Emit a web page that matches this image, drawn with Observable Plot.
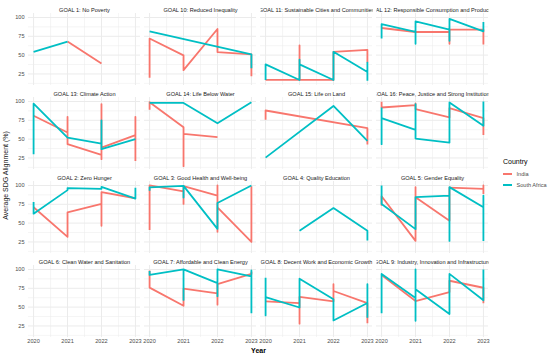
<!DOCTYPE html>
<html><head><meta charset="utf-8">
<script src="https://cdn.jsdelivr.net/npm/d3@7"></script>
<script src="https://cdn.jsdelivr.net/npm/@observablehq/plot@0.6"></script>
<style>
body{margin:0;background:#fff;}
#wrap{position:relative;width:550px;height:355px;font-family:"Liberation Sans",Arial,sans-serif;}
#chart svg g[aria-label="x-axis label"] text{font-size:7px;font-weight:bold;fill:#000;}
#chart svg g[aria-label="y-axis label"] text{font-size:7px;font-weight:normal;fill:#1a1a1a;}
#legend{position:absolute;left:500px;top:150px;}
</style></head>
<body><div id="wrap"><div id="chart"></div><div id="legend"></div></div>
<script>
const goals = [
  "GOAL 1: No Poverty",
  "GOAL 10: Reduced Inequality",
  "GOAL 11: Sustainable Cities and Communities",
  "GOAL 12: Responsible Consumption and Production",
  "GOAL 13: Climate Action",
  "GOAL 14: Life Below Water",
  "GOAL 15: Life on Land",
  "GOAL 16: Peace, Justice and Strong Institutions",
  "GOAL 2: Zero Hunger",
  "GOAL 3: Good Health and Well-being",
  "GOAL 4: Quality Education",
  "GOAL 5: Gender Equality",
  "GOAL 6: Clean Water and Sanitation",
  "GOAL 7: Affordable and Clean Energy",
  "GOAL 8: Decent Work and Economic Growth",
  "GOAL 9: Industry, Innovation and Infrastructure"
];
const years = [2020, 2021, 2022, 2023];
const countries = ["India", "South Africa"];
const colors = ["#F8766D", "#00BFC4"];

// values per goal, per year (2020..2023), in data order
const india = [
  [[], [68], [39], []],
  [[20, 72], [49.6, 30], [84.6, 54], [51, 22]],
  [[17], [17, 63, 17], [17, 54.4], [57, 40]],
  [[86], [80.7], [80.7, 65, 83.8], [83.8, 64]],
  [[81], [58.7, 79.6, 43.3], [29, 96.5, 23.3, 38.8], [55.3, 79.6, 21]],
  [[89, 99], [65.8, 14, 57], [52.5], []],
  [[75.6, 88], [], [], [64.5, 43]],
  [[99.6, 92], [95.2, 97.4, 89.9], [78.7, 91], [77.8, 55.6]],
  [[71], [31.7, 64.3], [75.5, 46.5, 91], [83]],
  [[41, 100], [92, 75.5, 99], [86.6, 100, 38.4, 71], [25, 99]],
  [[], [], [], []],
  [[73.2, 85.7], [26.4, 97.8, 84.4], [53.2, 97], [95.5, 100, 88.8]],
  [[], [], [], []],
  [[98.6, 75.9], [51.8, 74.5], [68.2, 53.2, 80.5], [94, 97]],
  [[57.5], [55.4, 28, 63.6], [57.7, 80.5, 71.4], [55.4, 28.6]],
  [[92.5], [58], [70, 85], [75.7, 55.2]]
];
const southAfrica = [
  [[54.4], [68], [], []],
  [[81.6], [], [], [51, 32.5]],
  [[17, 37.7], [17, 44, 37.7], [17, 54.4], [27.6, 40, 16]],
  [[72, 91], [80.7, 65, 94.7], [83.8, 69, 98], [81.6, 94]],
  [[30, 97], [52], [44, 75, 36.6], [50]],
  [[98], [98], [71], [99]],
  [[25.4], [], [94], [47.6]],
  [[92, 43.3, 77.9], [62.3, 96.5, 50.7], [45.4, 98.7], [67.6, 100]],
  [[78, 62.5], [93.8, 96.5], [95.5, 98], [82.6, 97]],
  [[93, 97.5], [99.5, 84, 99.5], [42.4, 76.8], [100]],
  [[], [40], [70], [40, 27]],
  [[100, 75.5], [42, 84.4], [86.6, 26.4, 97.8], [71, 86.6, 26.4]],
  [[], [], [], []],
  [[98, 92.8], [100, 59.5, 100], [81.8, 64.5, 100], [90.9, 98.6, 41.8]],
  [[89, 39, 63.2], [49.5, 87.7], [60.5, 32.3], [55.4, 80.5, 36]],
  [[41.8, 94.1], [62.2, 100, 31.8, 73.6], [40.9, 94.1], [59, 100]]
];

const yTicks = [25, 50, 75, 100];
const yMinor = [12.5, 37.5, 62.5, 87.5];
const xMinor = [2020.5, 2021.5, 2022.5];

const rows = [];
[india, southAfrica].forEach((series, c) => {
  series.forEach((perYear, g) => {
    perYear.forEach((vals, j) => vals.forEach(v => rows.push({
      goal: goals[g], col: g % 4, row: Math.floor(g / 4),
      country: countries[c], year: years[j], value: v
    })));
  });
});

const chart = Plot.plot({
  width: 550, height: 355,
  marginLeft: 28, marginRight: 62, marginTop: 12, marginBottom: 18,
  style: {fontFamily: '"Liberation Sans", Arial, sans-serif', fontSize: "5.6px", color: "#4d4d4d", background: "#fff"},
  fx: {domain: [0, 1, 2, 3], axis: null, paddingInner: 0.0345, paddingOuter: 0},
  fy: {domain: [0, 1, 2, 3], axis: null, paddingInner: 0.146, paddingOuter: 0},
  x: {domain: [2019.85, 2023.15], ticks: years, tickFormat: d => String(d), tickSize: 0, tickPadding: 2,
      label: "Year", labelAnchor: "center", labelArrow: "none"},
  y: {domain: [9.65, 105.25], ticks: yTicks, tickSize: 0, tickPadding: 4,
      label: "Average SDG Alignment (%)", labelAnchor: "center", labelArrow: "none"},
  color: {domain: countries, range: colors},
  marks: [
    Plot.ruleY(yMinor, {stroke: "#ebebeb", strokeWidth: 0.5}),
    Plot.ruleX(xMinor, {stroke: "#ebebeb", strokeWidth: 0.5}),
    Plot.ruleY(yTicks, {stroke: "#ebebeb", strokeWidth: 1}),
    Plot.ruleX(years, {stroke: "#ebebeb", strokeWidth: 1}),
    Plot.text(goals, {fx: (d, i) => i % 4, fy: (d, i) => Math.floor(i / 4), text: d => d,
      frameAnchor: "top", lineAnchor: "bottom", dy: -2, fontSize: 5.6, fill: "#1a1a1a"}),
    Plot.line(rows, {x: "year", y: "value", z: "country", stroke: "country", fx: "col", fy: "row",
      strokeWidth: 1.8, strokeLinecap: "butt", strokeLinejoin: "round"})
  ]
});
document.getElementById("chart").appendChild(chart);

// clip facet strip titles to their panel width, like ggplot strips
let bw = 112;
try { const s = chart.scale("fx"); if (s && s.bandwidth) bw = s.bandwidth; } catch (e) {}
const svgSel = d3.select(chart);
const defs = svgSel.append("defs");
let k = 0;
chart.querySelectorAll("text").forEach(t => {
  if (!goals.includes(t.textContent)) return;
  const b = t.getBBox();
  const cx = b.x + b.width / 2;
  const id = "stripclip" + (k++);
  defs.append("clipPath").attr("id", id).attr("clipPathUnits", "userSpaceOnUse")
    .append("rect").attr("x", cx - bw / 2).attr("y", b.y - 2).attr("width", bw).attr("height", b.height + 4);
  t.setAttribute("clip-path", `url(#${id})`);
});

// legend
const lg = d3.select("#legend").append("svg").attr("width", 50).attr("height", 45)
  .style("font-family", '"Liberation Sans", Arial, sans-serif');
lg.append("text").attr("x", 3).attr("y", 12).attr("dy", "0.35em").attr("font-size", 7).attr("fill", "#000").text("Country");
countries.forEach((c, i) => {
  const y = 24 + i * 11;
  lg.append("line").attr("x1", 3).attr("x2", 12).attr("y1", y).attr("y2", y).attr("stroke", colors[i]).attr("stroke-width", 2);
  lg.append("text").attr("x", 16.5).attr("y", y).attr("dy", "0.35em").attr("font-size", 5.6).attr("fill", "#4d4d4d").text(c);
});
</script></body></html>
